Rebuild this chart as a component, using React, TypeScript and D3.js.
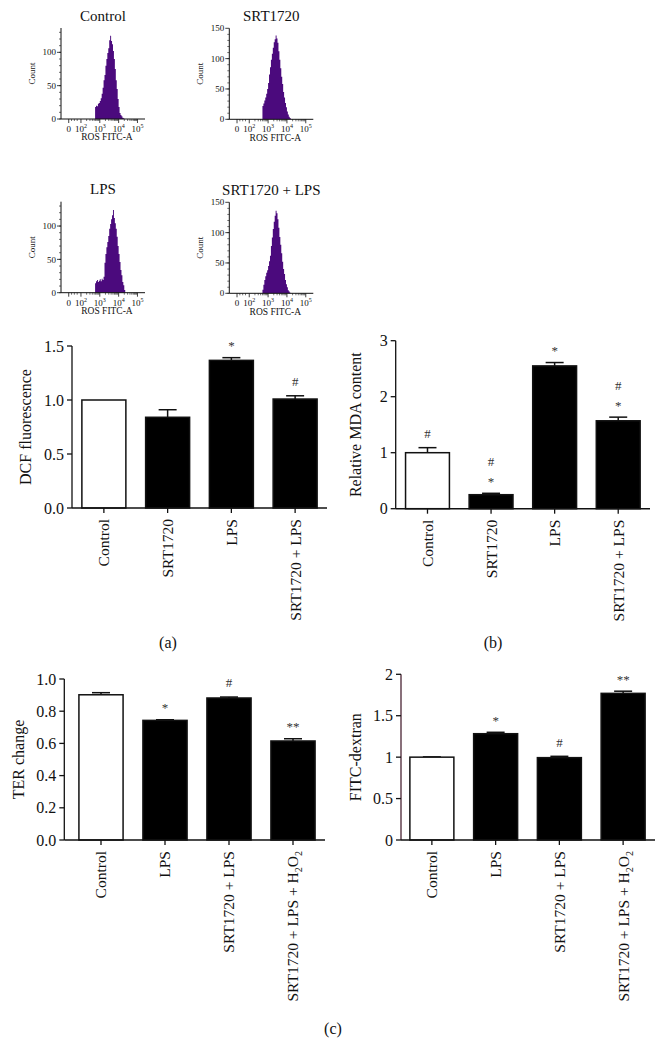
import React from "react";
import * as d3 from "d3";

const FONT = "'Liberation Serif', 'Times New Roman', serif";

// ---------- Flow cytometry histograms ----------
const histTitles = ["Control", "SRT1720", "LPS", "SRT1720 + LPS"];
const histStarts = [2.75, 2.7, 2.75, 2.7];
const histBin = 0.05;
const histControl = [18, 20, 19, 23, 24, 27, 31, 38, 47, 58, 66, 80, 90, 99, 106, 118, 125, 117, 112, 102, 90, 75, 58, 45, 30, 18, 9, 6, 4, 2, 1, 0];
const histSRT = [22, 26, 31, 36, 42, 50, 60, 74, 86, 98, 108, 118, 127, 132, 138, 133, 126, 112, 98, 84, 70, 58, 45, 36, 27, 20, 13, 8, 4, 2, 0];
const histLPS = [14, 17, 19, 16, 18, 20, 17, 21, 19, 24, 45, 58, 68, 76, 85, 96, 103, 110, 116, 124, 112, 104, 96, 84, 70, 58, 46, 34, 26, 16, 11, 4, 0];
const histSRTLPS = [6, 14, 22, 28, 34, 38, 45, 53, 62, 78, 92, 106, 118, 128, 136, 132, 122, 108, 93, 80, 66, 52, 40, 32, 22, 15, 10, 5, 3, 1, 0];
const histYMax = [136.5, 150, 136.5, 150];
const histYTicks = [[0, 50, 100], [0, 50, 100, 150], [0, 50, 100], [0, 50, 100, 150]];
const histXTickPos = [1.35, 2, 3, 4, 5];
const histXTickExp = ["", "2", "3", "4", "5"];

// ---------- (a) DCF fluorescence ----------
const catsAB = ["Control", "SRT1720", "LPS", "SRT1720 + LPS"];
const dcfValues = [1.0, 0.84, 1.367, 1.009];
const dcfErrors = [0, 0.07, 0.025, 0.03];
const dcfMarks = [[], [], ["*"], ["#"]];
const dcfTicks = [0, 0.5, 1.0, 1.5];

// ---------- (b) MDA ----------
const mdaValues = [1.0, 0.25, 2.55, 1.57];
const mdaErrors = [0.09, 0.025, 0.06, 0.065];
const mdaMarks = [["#"], ["*", "#"], ["*"], ["*", "#"]];
const mdaTicks = [0, 1, 2, 3];

// ---------- (c) TER & FITC-dextran ----------
const catsC = ["Control", "LPS", "SRT1720 + LPS", "SRT1720 + LPS + H2O2"];
const terValues = [0.902, 0.743, 0.882, 0.615];
const terErrors = [0.013, 0.004, 0.006, 0.014];
const terMarks = [[], ["*"], ["#"], ["**"]];
const terTicks = [0, 0.2, 0.4, 0.6, 0.8, 1.0];
const fitcValues = [1.0, 1.283, 0.994, 1.77];
const fitcErrors = [0.003, 0.017, 0.016, 0.026];
const fitcMarks = [[], ["*"], ["#"], ["**"]];
const fitcTicks = [0, 0.5, 1, 1.5, 2];

function Histogram({ ox, oy, title, start, counts, yMax, yTicks }: any) {
  const W = 84;
  const H = 91;
  const x = d3.scaleLinear().domain([0.94, 5.4]).range([ox, ox + W]);
  const y = d3.scaleLinear().domain([0, yMax]).range([oy, oy - H]);
  const pts: [number, number][] = counts.map((c: number, i: number) => [start + i * histBin, c]);
  const area = d3
    .area<[number, number]>()
    .x((d) => x(d[0]))
    .y0(y(0))
    .y1((d) => y(d[1]))
    .curve(d3.curveStepAfter);
  const minorY = d3.range(0, yMax, 10);
  const minorX: number[] = [1.5, 1.65, 1.8];
  [2, 3, 4].forEach((dec) => {
    for (let k = 2; k <= 9; k++) minorX.push(dec + Math.log10(k));
  });
  return (
    <g fontFamily={FONT} fill="#111">
      <text x={ox + 42} y={oy - 103.5} fontSize={15} textAnchor="middle" dy="0.35em">
        {title}
      </text>
      <path d={area(pts) || ""} fill="#4b0a7d" />
      <line x1={ox} x2={ox} y1={y(0)} y2={y(yMax)} stroke="#111" strokeWidth={1} />
      <line x1={ox} x2={ox + W} y1={oy} y2={oy} stroke="#111" strokeWidth={1} />
      {minorY.map((t) => (
        <line key={"my" + t} x1={ox - 2} x2={ox} y1={y(t)} y2={y(t)} stroke="#111" strokeWidth={0.6} />
      ))}
      {yTicks.map((t: number) => (
        <g key={"y" + t}>
          <line x1={ox - 4} x2={ox} y1={y(t)} y2={y(t)} stroke="#111" strokeWidth={0.8} />
          <text x={ox - 5} y={y(t)} dy="0.35em" fontSize={9} textAnchor="end">
            {t}
          </text>
        </g>
      ))}
      {minorX.map((t, i) => (
        <line key={"mx" + i} x1={x(t)} x2={x(t)} y1={oy} y2={oy + 2} stroke="#111" strokeWidth={0.6} />
      ))}
      {histXTickPos.map((t, i) => (
        <g key={"x" + i}>
          <line x1={x(t)} x2={x(t)} y1={oy} y2={oy + 4} stroke="#111" strokeWidth={0.8} />
          <text x={x(t)} y={oy + 10} dy="0.35em" fontSize={9} textAnchor="middle">
            {histXTickExp[i] === "" ? (
              "0"
            ) : (
              <>
                10
                <tspan dy={-4} fontSize={6}>
                  {histXTickExp[i]}
                </tspan>
              </>
            )}
          </text>
        </g>
      ))}
      <text x={ox + 46} y={oy + 18} dy="0.35em" fontSize={9.5} textAnchor="middle">
        ROS FITC-A
      </text>
      <text
        transform={`translate(${ox - 29},${oy - H / 2}) rotate(-90)`}
        dy="0.35em"
        fontSize={9}
        textAnchor="middle"
      >
        Count
      </text>
    </g>
  );
}

function CatLabel({ label }: { label: string }) {
  if (label.endsWith("H2O2")) {
    const base = label.slice(0, -4);
    return (
      <>
        {base}H
        <tspan dy={4} fontSize={10}>
          2
        </tspan>
        <tspan dy={-4}>O</tspan>
        <tspan dy={4} fontSize={10}>
          2
        </tspan>
      </>
    );
  }
  return <>{label}</>;
}

function BarPanel({
  axisX,
  bandStart,
  bandEnd,
  y0,
  yTop,
  domainMax,
  ticks,
  fmt,
  cats,
  values,
  errors,
  marks,
  ylabel,
  ylabelX,
  axisColor = "#111",
}: any) {
  const x = d3.scaleBand<string>().domain(cats).range([bandStart, bandEnd]).paddingInner(0.31).paddingOuter(0.155);
  const y = d3.scaleLinear().domain([0, domainMax]).range([y0, yTop]);
  const bw = x.bandwidth();
  const cap = 18;
  return (
    <g fontFamily={FONT} fill="#111">
      {cats.map((c: string, i: number) => {
        const cx = (x(c) as number) + bw / 2;
        const top = y(values[i] + errors[i]);
        return (
          <g key={c}>
            {errors[i] > 0 && (
              <>
                <line x1={cx} x2={cx} y1={y(values[i])} y2={top} stroke="#111" strokeWidth={1.5} />
                <line x1={cx - cap / 2} x2={cx + cap / 2} y1={top} y2={top} stroke="#111" strokeWidth={1.5} />
              </>
            )}
            <rect
              x={x(c)}
              y={y(values[i])}
              width={bw}
              height={y0 - y(values[i])}
              fill={i === 0 ? "#fff" : "#000"}
              stroke="#111"
              strokeWidth={1.5}
            />
            {marks[i].map((m: string, k: number) => {
              const center = top - 14 - k * 18;
              const base = m.includes("*") ? center + 6.5 : center + 4.4;
              return (
                <text key={k} x={cx} y={base} fontSize={13} textAnchor="middle" fill="#333">
                  {m}
                </text>
              );
            })}
            <line x1={cx} x2={cx} y1={y0} y2={y0 + 5} stroke="#111" strokeWidth={1.3} />
            <text
              transform={`translate(${cx},${y0 + 11}) rotate(-90)`}
              dy="0.35em"
              fontSize={15.5}
              textAnchor="end"
            >
              <CatLabel label={c} />
            </text>
          </g>
        );
      })}
      <line x1={axisX} x2={axisX} y1={y0} y2={yTop} stroke={axisColor} strokeWidth={1.3} />
      <line x1={axisX} x2={bandEnd} y1={y0} y2={y0} stroke="#111" strokeWidth={1.5} />
      {ticks.map((t: number) => (
        <g key={"t" + t}>
          <line x1={axisX - 5} x2={axisX} y1={y(t)} y2={y(t)} stroke="#111" strokeWidth={1.3} />
          <text x={axisX - 8} y={y(t)} dy="0.35em" fontSize={16} textAnchor="end">
            {fmt(t)}
          </text>
        </g>
      ))}
      <text
        transform={`translate(${ylabelX},${(y0 + yTop) / 2}) rotate(-90)`}
        dy="0.35em"
        fontSize={16}
        textAnchor="middle"
      >
        {ylabel}
      </text>
    </g>
  );
}

export default function App() {
  const hists = [histControl, histSRT, histLPS, histSRTLPS];
  const origins = [
    [61, 119],
    [229.3, 119.3],
    [61, 292.7],
    [229.3, 293.3],
  ];
  const f1 = d3.format(".1f");
  const fd = d3.format("d");
  const fg = (v: number) => String(v);
  return (
    <svg
      width={665}
      height={1062}
      viewBox="0 0 665 1062"
      style={{ position: "absolute", left: 0, top: 0, background: "#fff" }}
    >
      <rect x={0} y={0} width={665} height={1062} fill="#fff" />
      {hists.map((h, i) => (
        <Histogram
          key={i}
          ox={origins[i][0]}
          oy={origins[i][1]}
          title={histTitles[i]}
          start={histStarts[i]}
          counts={h}
          yMax={histYMax[i]}
          yTicks={histYTicks[i]}
        />
      ))}
      <BarPanel
        axisX={72}
        bandStart={72}
        bandEnd={327}
        y0={508}
        yTop={346}
        domainMax={1.5}
        ticks={dcfTicks}
        fmt={f1}
        cats={catsAB}
        values={dcfValues}
        errors={dcfErrors}
        marks={dcfMarks}
        ylabel="DCF fluorescence"
        ylabelX={25}
      />
      <BarPanel
        axisX={395.7}
        bandStart={395.7}
        bandEnd={650}
        y0={508.7}
        yTop={340.7}
        domainMax={3}
        ticks={mdaTicks}
        fmt={fd}
        cats={catsAB}
        values={mdaValues}
        errors={mdaErrors}
        marks={mdaMarks}
        ylabel="Relative MDA content"
        ylabelX={355}
      />
      <BarPanel
        axisX={64.3}
        bandStart={69}
        bandEnd={325}
        y0={840}
        yTop={679}
        domainMax={1}
        ticks={terTicks}
        fmt={f1}
        cats={catsC}
        values={terValues}
        errors={terErrors}
        marks={terMarks}
        ylabel="TER change"
        ylabelX={18.5}
      />
      <BarPanel
        axisX={401}
        bandStart={400}
        bandEnd={655}
        y0={840}
        yTop={674.3}
        domainMax={2}
        ticks={fitcTicks}
        fmt={fg}
        cats={catsC}
        values={fitcValues}
        errors={fitcErrors}
        marks={fitcMarks}
        ylabel="FITC-dextran"
        ylabelX={355}
        axisColor="#4a2434"
      />
      <g fontFamily={FONT} fontSize={16} fill="#111" textAnchor="middle">
        <text x={168} y={642} dy="0.35em">(a)</text>
        <text x={493} y={642} dy="0.35em">(b)</text>
        <text x={333} y={1028} dy="0.35em">(c)</text>
      </g>
    </svg>
  );
}
